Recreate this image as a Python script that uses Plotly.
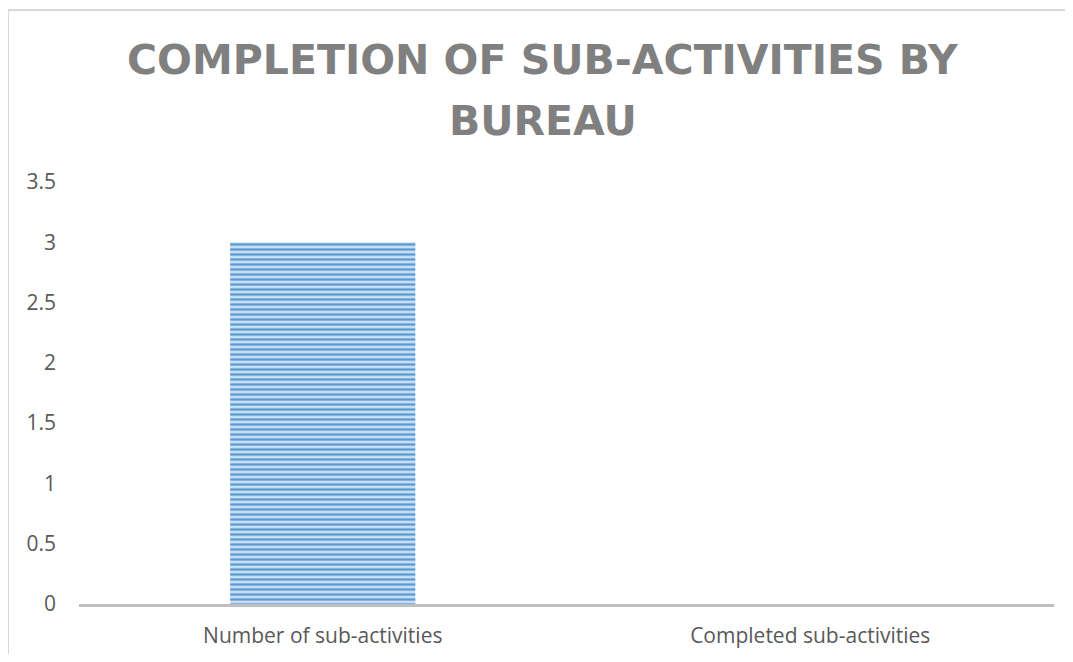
import plotly.graph_objects as go

categories = ["Number of sub-activities", "Completed sub-activities"]
values = [3, 0]
title_lines = ["COMPLETION OF SUB-ACTIVITIES BY", "BUREAU"]

fig = go.Figure()

fig.add_trace(go.Bar(
    x=categories, y=values, width=0.38,
    marker=dict(
        color="#C9DDF1",
        line=dict(width=0),
        pattern=dict(shape="-", fgcolor="#5B9BD5", bgcolor="#C9DDF1",
                     size=5, solidity=0.45, fillmode="replace"),
    ),
    hoverinfo="x+y",
))

# outer chart frame: only top and left edges are visible in the cropped source
frame = dict(color="#D9D9D9", width=2)
fig.add_shape(type="line", xref="paper", yref="paper",
              x0=-0.0728, x1=1.2, y0=1.4076, y1=1.4076, line=frame, layer="below")
fig.add_shape(type="line", xref="paper", yref="paper",
              x0=-0.0728, x1=-0.0728, y0=-0.4, y1=1.4076, line=frame, layer="below")

title_font = dict(family="DejaVu Sans", size=41, color="#808080", weight="bold")
fig.add_annotation(text=title_lines[0], xref="paper", yref="paper", x=0.4764, y=1.290,
                   xanchor="center", yanchor="middle", showarrow=False, font=title_font)
fig.add_annotation(text=title_lines[1], xref="paper", yref="paper", x=0.4764, y=1.145,
                   xanchor="center", yanchor="middle", showarrow=False, font=title_font)

fig.update_xaxes(showline=True, linecolor="#BFBFBF", linewidth=3, showgrid=False,
                 ticks="", ticklabelstandoff=11, automargin=False,
                 tickfont=dict(family="Open Sans", size=21, color="#595959"))
fig.update_yaxes(range=[0, 3.5], dtick=0.5, showgrid=False, zeroline=False, showline=False,
                 ticks="", ticklabelstandoff=22, automargin=False,
                 tickfont=dict(family="Open Sans", size=21, color="#595959"))

# page body has an 8px margin; shrink the figure so the page doesn't overflow
fig.update_layout(width=1057, height=646, plot_bgcolor="white", paper_bgcolor="white",
                  margin=dict(l=71, r=11, t=174, b=50), showlegend=False)

fig.write_html("out.html")
